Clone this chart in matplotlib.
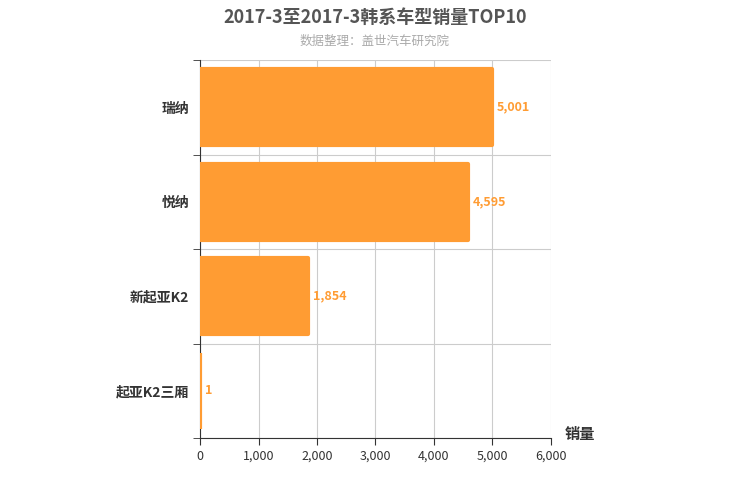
import matplotlib
matplotlib.use('Agg')
import matplotlib.pyplot as plt
import numpy as np

plt.rcParams['font.family'] = ['Noto Sans CJK SC', 'DejaVu Sans']

models = ['瑞纳', '悦纳', '新起亚K2', '起亚K2三厢']
sales = [5001, 4595, 1854, 1]
bar_color = '#ff9c33'

fig = plt.figure(figsize=(7.5, 5), dpi=100)
ax = fig.add_axes([0.267, 0.124, 0.467, 0.756])

y = np.arange(len(models))[::-1]
ax.barh(y, sales, height=0.8, color=bar_color, edgecolor=bar_color,
        linewidth=3, joinstyle='round', zorder=3)
for yi, v in zip(y, sales):
    ax.text(v + 80, yi, f'{v:,}', va='center', ha='left', color=bar_color,
            fontsize=9, fontweight='bold')

ax.set_xlim(0, 6000)
ax.set_ylim(-0.5, len(models) - 0.5)
ax.set_xticks(np.arange(0, 6001, 1000))
ax.set_xticklabels([f'{v:,}' for v in range(0, 6001, 1000)], fontsize=9, color='#333333')
ax.set_yticks(y)
ax.set_yticklabels(models, fontsize=10, fontweight='bold', color='#333333')
ax.tick_params(axis='y', length=0, pad=8)
ax.set_yticks(np.arange(-0.5, len(models), 1), minor=True)
ax.tick_params(axis='y', which='minor', length=5, color='#333333')
ax.tick_params(axis='x', length=5, color='#333333')
ax.grid(axis='x', color='#cccccc', linewidth=0.8, zorder=0)
ax.grid(axis='y', which='minor', color='#cccccc', linewidth=0.8, zorder=0)
for s in ['top', 'right']:
    ax.spines[s].set_visible(False)
ax.spines['left'].set_color('#333333')
ax.spines['bottom'].set_color('#333333')

fig.text(0.753, 0.122, '销量', fontsize=11, fontweight='bold', color='#333333')
fig.text(0.5, 0.955, '2017-3至2017-3韩系车型销量TOP10', ha='center', fontsize=13,
         fontweight='bold', color='#555555')
fig.text(0.5, 0.91, '数据整理：盖世汽车研究院', ha='center', fontsize=9, color='#aaaaaa')

fig.savefig('out.png')
